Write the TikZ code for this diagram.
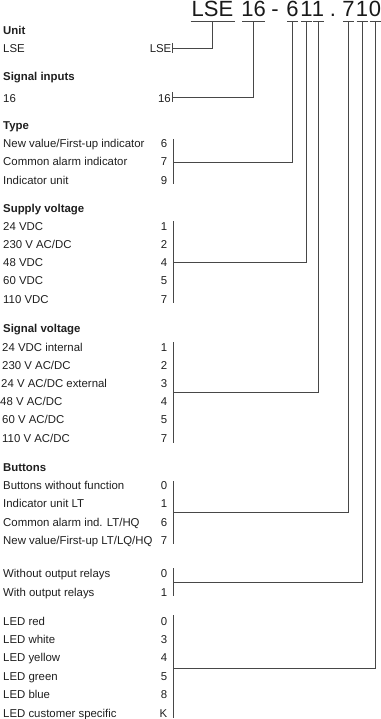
\documentclass[tikz,border=0pt]{standalone}
\usepackage{fontspec}
\setmainfont{Liberation Sans}
\usetikzlibrary{calc}
\begin{document}
\begin{tikzpicture}[x=1pt,y=-1pt,
  txt/.style={anchor=base west, inner sep=0pt, font=\fontsize{11.4}{13}\selectfont, text=black!88},
  hd/.style={txt, font=\fontsize{11.4}{13}\selectfont\bfseries},
  num/.style={anchor=base east, inner sep=0pt, font=\fontsize{11.4}{13}\selectfont, text=black!88},
  big/.style={anchor=base, inner sep=0pt, font=\fontsize{22}{24}\selectfont, text=black!90},
  ln/.style={draw=black!72, line width=0.8pt}]
\useasboundingbox (0,0) rectangle (380,719);

% ---------- header code ----------
\node[big] (hL) at (212.5,17) {LSE};
\node[big] (h16) at (253.5,17) {16};
\node[big] (hdash) at (275,17) {-};
\node[big] (h6) at (292.5,17) {6};
\node[big] (h1a) at (306.5,17) {1};
\node[big] (h1b) at (318,17) {1};
\node[big] (hdot) at (333,17) {.};
\node[big] (h7) at (348.5,17) {7};
\node[big] (h1c) at (362,17) {1};
\node[big] (h0) at (375,17) {0};

\foreach \n/\w in {hL/22,h16/11.5,h6/5.5,h1a/5.5,h1b/5.5,h7/5.5,h1c/5.5,h0/5.5}{
  \draw[ln] ($(\n.base)+(-\w,4)$) -- ($(\n.base)+(\w,4)$);
  \coordinate (t\n) at ($(\n.base)+(0,4)$);
}

% ---------- left column ----------
\node[hd] (uUnit) at (3,35) {Unit};
\node[txt] (uLSE) at (3,52.5) {LSE};
\node[num] (nLSE) at (171.5,52.5) {LSE};
\coordinate (bLSEa) at (172.5,43);
\coordinate (bLSEb) at (172.5,53.5);
\coordinate (mLSE) at (172.5,48.5);

\node[hd] (uSig) at (3,81) {Signal inputs};
\node[txt] (u16) at (3,103) {16};
\node[num] (n16) at (171,103) {16};
\coordinate (b16a) at (172.5,92);
\coordinate (b16b) at (172.5,102);
\coordinate (m16) at (172.5,97);

\node[hd] (uType) at (3,130) {Type};
\node[txt] (ty1) at (3,148) {New value/First-up indicator};
\node[txt] (ty2) at (3,166) {Common alarm indicator};
\node[txt] (ty3) at (3,184.5) {Indicator unit};
\node[num] (nty1) at (167.5,148) {6};
\node[num] (nty2) at (167.5,166) {7};
\node[num] (nty3) at (167.5,184.5) {9};
\coordinate (bTa) at (173,139);
\coordinate (bTb) at (173,184.5);
\coordinate (mT) at (173,162);

\node[hd] (uSup) at (3,213) {Supply voltage};
\node[txt] (su1) at (3,230.7) {24 VDC};
\node[txt] (su2) at (3,248.5) {230 V AC/DC};
\node[txt] (su3) at (3,266) {48 VDC};
\node[txt] (su4) at (3,284.5) {60 VDC};
\node[txt] (su5) at (3,303) {110 VDC};
\node[num] (nsu1) at (167.5,230.7) {1};
\node[num] (nsu2) at (167.5,248.5) {2};
\node[num] (nsu3) at (167.5,266) {4};
\node[num] (nsu4) at (167.5,284.5) {5};
\node[num] (nsu5) at (167.5,303) {7};
\coordinate (bSa) at (173,221);
\coordinate (bSb) at (173,303);
\coordinate (mS) at (173,262);

\node[hd] (uSv) at (3,332) {Signal voltage};
\node[txt] (sv1) at (2,351) {24 VDC internal};
\node[txt] (sv2) at (2,369) {230 V AC/DC};
\node[txt] (sv3) at (1,387) {24 V AC/DC external};
\node[txt] (sv4) at (0,405) {48 V AC/DC};
\node[txt] (sv5) at (2,423) {60 V AC/DC};
\node[txt] (sv6) at (2,442) {110 V AC/DC};
\node[num] (nsv1) at (167.5,351) {1};
\node[num] (nsv2) at (167.5,369) {2};
\node[num] (nsv3) at (167.5,387) {3};
\node[num] (nsv4) at (167.5,405) {4};
\node[num] (nsv5) at (167.5,423) {5};
\node[num] (nsv6) at (167.5,442) {7};
\coordinate (bVa) at (173,342);
\coordinate (bVb) at (173,443);
\coordinate (mV) at (173,392.5);

\node[hd] (uBut) at (3,471) {Buttons};
\node[txt] (bu1) at (3,489) {Buttons without function};
\node[txt] (bu2) at (3,507) {Indicator unit LT};
\node[txt] (bu3) at (3,526) {Common alarm ind. LT/HQ};
\node[txt] (bu4) at (3,544) {New value/First-up LT/LQ/HQ};
\node[num] (nbu1) at (167.5,489) {0};
\node[num] (nbu2) at (167.5,507) {1};
\node[num] (nbu3) at (167.5,526) {6};
\node[num] (nbu4) at (167.5,544) {7};
\coordinate (bBa) at (173,481);
\coordinate (bBb) at (173,544);
\coordinate (mB) at (173,512);

\node[txt] (or1) at (3,577) {Without output relays};
\node[txt] (or2) at (3,596) {With output relays};
\node[num] (nor1) at (167.5,577) {0};
\node[num] (nor2) at (167.5,596) {1};
\coordinate (bOa) at (173,568);
\coordinate (bOb) at (173,596);
\coordinate (mO) at (173,582);

\node[txt] (le1) at (3,625) {LED red};
\node[txt] (le2) at (3,643) {LED white};
\node[txt] (le3) at (3,661) {LED yellow};
\node[txt] (le4) at (3,680) {LED green};
\node[txt] (le5) at (3,698) {LED blue};
\node[txt] (le6) at (3,717) {LED customer specific};
\node[num] (nle1) at (167.5,625) {0};
\node[num] (nle2) at (167.5,643) {3};
\node[num] (nle3) at (167.5,661) {4};
\node[num] (nle4) at (167.5,680) {5};
\node[num] (nle5) at (167.5,698) {8};
\node[num] (nle6) at (167.5,717) {K};
\coordinate (bEa) at (173,615);
\coordinate (bEb) at (173,718);
\coordinate (mE) at (173,668);

% ---------- brackets ----------
\foreach \g in {LSE,16,T,S,V,B,O,E}{
  \draw[ln] (b\g a) -- (b\g b);
}

% ---------- connectors ----------
\draw[ln] (mLSE) -| (thL);
\draw[ln] (m16) -| (th16);
\draw[ln] (mT) -| (th6);
\draw[ln] (mS) -| (th1a);
\draw[ln] (mV) -| (th1b);
\draw[ln] (mB) -| (th7);
\draw[ln] (mO) -| (th1c);
\draw[ln] (mE) -| (th0);
\end{tikzpicture}
\end{document}
